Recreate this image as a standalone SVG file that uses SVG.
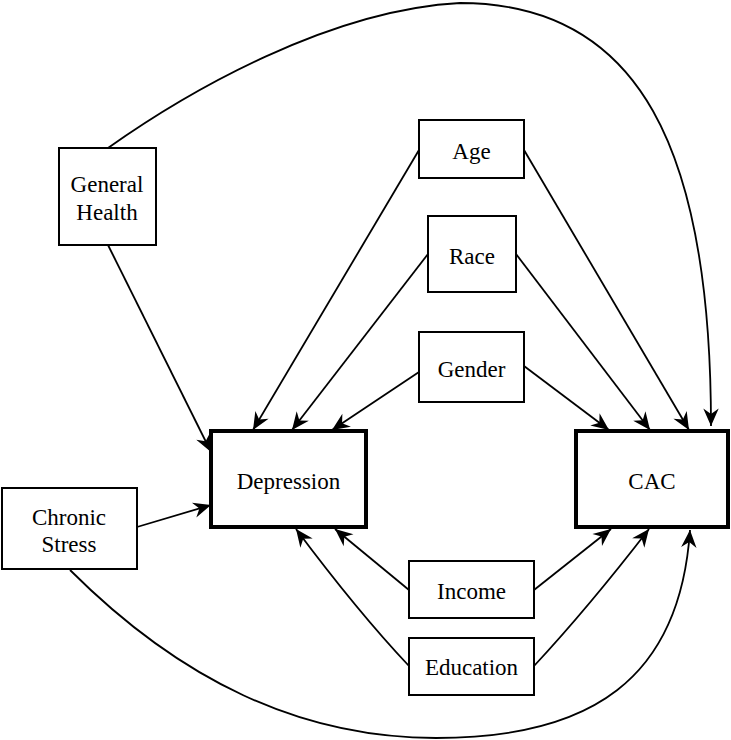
<svg xmlns="http://www.w3.org/2000/svg" width="731" height="740" viewBox="0 0 731 740">
<defs>
<marker id="ah" markerUnits="userSpaceOnUse" markerWidth="22" markerHeight="22" viewBox="-18 -9 20 18" refX="0" refY="0" orient="auto">
<path d="M0,0 L-16,-7 L-11,0 L-16,7 Z" fill="#000"/>
</marker>
</defs>
<style>
.box{fill:#fff;stroke:#000;stroke-width:2}
.main{fill:#fff;stroke:#000;stroke-width:4}
.lbl{font-family:"Liberation Serif","Times New Roman",serif;font-size:23px;fill:#000;text-anchor:middle;dominant-baseline:central}
.c{fill:none;stroke:#000;stroke-width:1.8;marker-end:url(#ah)}
</style>
<g id="connectors">
<path class="c" d="M108,148 C190,90 330,10 460,3 C640,3 711,150 711,426"/>
<path class="c" d="M70,570 C180,680 300,738 436,738 C590,738 680,680 690,530"/>
<path class="c" d="M108,245 L211,452"/>
<path class="c" d="M137,527 L211,505"/>
<path class="c" d="M419,150 L253,430"/>
<path class="c" d="M428,254 L292,430"/>
<path class="c" d="M419,372 L332,430"/>
<path class="c" d="M524,150 L689,430"/>
<path class="c" d="M516,254 L650,430"/>
<path class="c" d="M524,366 L609,430"/>
<path class="c" d="M409,590 L335,529"/>
<path class="c" d="M409,666 Q358,612 296,529"/>
<path class="c" d="M534,590 L611,529"/>
<path class="c" d="M534,666 Q588,608 649,529"/>
</g>
<g id="general-health"><rect class="box" x="59" y="148" width="97" height="97"/><text class="lbl" x="107" y="184">General</text><text class="lbl" x="107" y="212">Health</text></g>
<g id="chronic-stress"><rect class="box" x="2" y="488" width="135" height="81"/><text class="lbl" x="69" y="517">Chronic</text><text class="lbl" x="69" y="544">Stress</text></g>
<g id="age"><rect class="box" x="419" y="120" width="105" height="58"/><text class="lbl" x="471.5" y="151">Age</text></g>
<g id="race"><rect class="box" x="428" y="216" width="88" height="76"/><text class="lbl" x="472" y="256">Race</text></g>
<g id="gender"><rect class="box" x="419" y="332" width="105" height="70"/><text class="lbl" x="471.5" y="369">Gender</text></g>
<g id="depression"><rect class="main" x="211" y="431" width="155" height="96"/><text class="lbl" x="288.5" y="481">Depression</text></g>
<g id="cac"><rect class="main" x="576" y="431" width="152" height="96"/><text class="lbl" x="652" y="481">CAC</text></g>
<g id="income"><rect class="box" x="409" y="561" width="125" height="57"/><text class="lbl" x="471.5" y="591">Income</text></g>
<g id="education"><rect class="box" x="409" y="638" width="125" height="57"/><text class="lbl" x="471.5" y="667">Education</text></g>
</svg>
